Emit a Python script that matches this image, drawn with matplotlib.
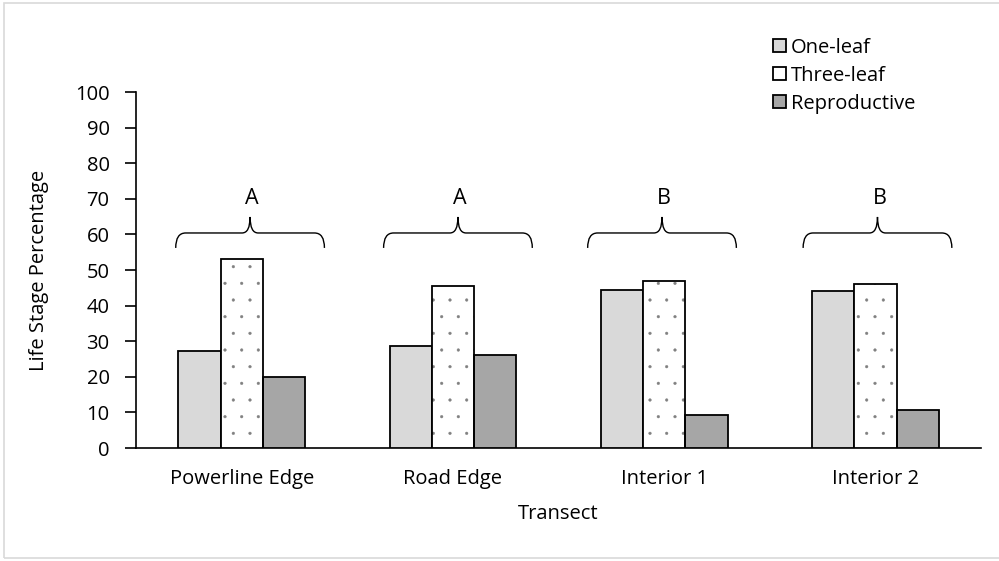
import numpy as np
import matplotlib.pyplot as plt
import matplotlib.hatch
from matplotlib.patches import Patch, Rectangle, PathPatch
from matplotlib.path import Path

plt.rcParams['font.family'] = ['Open Sans', 'DejaVu Sans']
plt.rcParams['hatch.linewidth'] = 0.3
matplotlib.hatch.SmallFilledCircles.size = 0.08  # puntos mas pequenos

# Datos
transectos = ['Powerline Edge', 'Road Edge', 'Interior 1', 'Interior 2']
one_leaf = [27.2, 28.7, 44.4, 44.0]
three_leaf = [53.1, 45.5, 47.0, 46.1]
reproductive = [19.9, 26.1, 9.3, 10.7]
letras = ['A', 'A', 'B', 'B']

x = np.arange(len(transectos)) + 0.5
ancho = 0.2
fs = 14.5

fig = plt.figure(figsize=(9.99, 5.61), dpi=100)
ax = fig.add_axes([136/999, 1-448/561, (981-136)/999, (448-92)/561])

# borde gris del area del grafico
fig.patches.append(Rectangle((4/999, 3/561), 1.0, 555/561, transform=fig.transFigure,
                             fill=False, edgecolor='#d9d9d9', linewidth=1.2))

ax.bar(x - ancho, one_leaf, ancho, color='#d9d9d9', edgecolor='black', linewidth=1.3, zorder=3)
# puntos grises, luego el contorno negro encima
ax.bar(x, three_leaf, ancho, color='white', edgecolor='#808080', hatch='.', linewidth=0, zorder=3)
ax.bar(x, three_leaf, ancho, fill=False, edgecolor='black', linewidth=1.3, zorder=4)
ax.bar(x + ancho, reproductive, ancho, color='#a6a6a6', edgecolor='black', linewidth=1.3, zorder=3)

# llaves y letras de grupos
desplaz = [0.04, 0.024, -0.01, 0.01]
w, dx, cx = 0.352, 0.047, 0.038
y_fin, y_med, y_punta = 56.2, 60.4, 64.9
for xi, d, letra in zip(x, desplaz, letras):
    xc = xi + d
    verts = [(xc - w, y_fin), (xc - w, y_med), (xc - w + dx, y_med),
             (xc - cx, y_med), (xc, y_med), (xc, y_punta),
             (xc, y_med), (xc + cx, y_med),
             (xc + w - dx, y_med), (xc + w, y_med), (xc + w, y_fin)]
    codes = [Path.MOVETO, Path.CURVE3, Path.CURVE3,
             Path.LINETO, Path.CURVE3, Path.CURVE3,
             Path.CURVE3, Path.CURVE3,
             Path.LINETO, Path.CURVE3, Path.CURVE3]
    ax.add_patch(PathPatch(Path(verts, codes), fill=False, edgecolor='black', linewidth=1.0))
    ax.text(xc + 0.01, 70.0, letra, ha='center', va='center', fontsize=15.5)

ax.set_xlim(0, 4)
ax.set_ylim(0, 100)
ax.set_yticks(range(0, 101, 10))
ax.set_xticks(x)
ax.set_xticklabels(transectos)
ax.tick_params(axis='y', length=8, width=1.2, labelsize=fs, pad=11)
ax.tick_params(axis='x', length=0, labelsize=fs, pad=15)
for s in ['top', 'right']:
    ax.spines[s].set_visible(False)
ax.spines['left'].set_linewidth(1.2)
ax.spines['bottom'].set_linewidth(1.2)

ax.set_ylabel('Life Stage Percentage', fontsize=fs, labelpad=19)
ax.set_xlabel('Transect', fontsize=fs, labelpad=11)

handles = [Patch(facecolor='#d9d9d9', edgecolor='black', linewidth=1.3),
           Patch(facecolor='white', edgecolor='black', linewidth=1.3),
           Patch(facecolor='#a6a6a6', edgecolor='black', linewidth=1.3)]
ax.legend(handles, ['One-leaf', 'Three-leaf', 'Reproductive'], loc='upper left',
          bbox_to_anchor=(0.754, 1.153), frameon=False, fontsize=fs,
          borderpad=0, borderaxespad=0,
          handlelength=0.62, handleheight=0.62, handletextpad=0.25, labelspacing=0.4)

fig.savefig('out.png', dpi=100)
